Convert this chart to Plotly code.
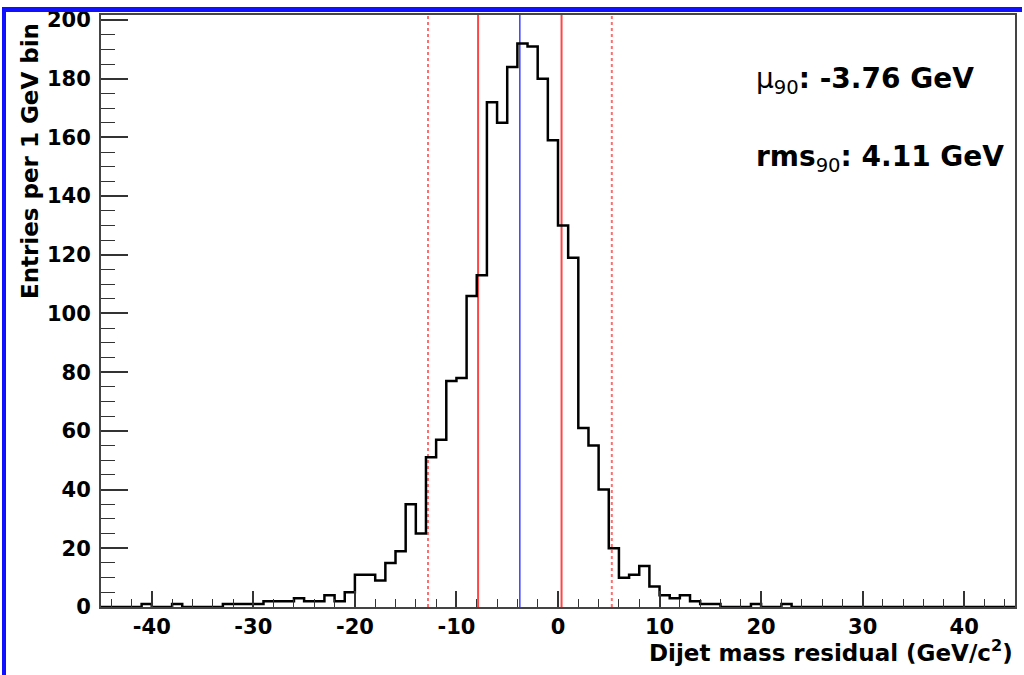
import plotly.graph_objects as go

# ---------------- data ----------------
bin_low_edges = list(range(-45, 45))  # 1 GeV bins
counts = [
    0, 0, 0, 0, 1, 0, 0, 1, 0, 0,          # -45 .. -36
    0, 0, 1, 1, 1, 1, 2, 2, 2, 3,          # -35 .. -26
    2, 2, 4, 2, 5, 11, 11, 9, 15, 19,      # -25 .. -16
    35, 25, 51, 57, 77, 78, 106, 113, 172, 165,   # -15 .. -6
    184, 192, 191, 180, 159, 130, 119, 61, 55, 40,  # -5 .. 4
    20, 10, 11, 14, 7, 4, 3, 4, 2, 1,      # 5 .. 14
    1, 0, 0, 0, 1, 0, 0, 1, 0, 0,          # 15 .. 24
    0, 0, 0, 0, 0, 0, 0, 0, 0, 0,          # 25 .. 34
    0, 0, 0, 0, 0, 0, 0, 0, 0, 0,          # 35 .. 44
]
bin_width = 1.0
mu90 = -3.76
rms90 = 4.11
solid_red_lines = [mu90 - rms90, mu90 + rms90]
dashed_red_lines = [-12.8, 5.3]
x_ticks = [-40, -30, -20, -10, 0, 10, 20, 30, 40]
x_tick_labels = ["-40", "-30", "-20", "-10", "0", "10", "20", "30", "40"]
y_ticks = [0, 20, 40, 60, 80, 100, 120, 140, 160, 180, 200]
y_tick_labels = [str(v) for v in y_ticks]

# ---------------- figure ----------------
xs = list(bin_low_edges) + [bin_low_edges[-1] + bin_width]
ys = list(counts) + [counts[-1]]

FONT = "DejaVu Sans, Verdana, sans-serif"

fig = go.Figure()
fig.add_trace(go.Scatter(
    x=xs, y=ys, mode="lines", line=dict(shape="hv", color="black", width=2.5),
    hoverinfo="skip", showlegend=False,
))

for xv in dashed_red_lines:
    fig.add_shape(type="line", xref="x", yref="paper", x0=xv, x1=xv, y0=0, y1=1,
                  line=dict(color="rgba(255,110,110,1)", width=2, dash="dot"), layer="below")
for xv in solid_red_lines:
    fig.add_shape(type="line", xref="x", yref="paper", x0=xv, x1=xv, y0=0, y1=1,
                  line=dict(color="rgba(255,70,70,1)", width=2), layer="below")
fig.add_shape(type="line", xref="x", yref="paper", x0=mu90, x1=mu90, y0=0, y1=1,
              line=dict(color="rgba(60,60,255,1)", width=1.5), layer="below")

# blue border (pixel sized, anchored on the plot corner)
border = dict(type="rect", xref="paper", yref="paper", xsizemode="pixel", ysizemode="pixel",
              xanchor=0, yanchor=0, fillcolor="#1010ff", line=dict(width=0), layer="above")
fig.add_shape(**border, x0=-99, x1=-95, y0=-80, y1=600)
fig.add_shape(**border, x0=-99, x1=921, y0=595, y1=600)

axis_common = dict(
    showgrid=False, zeroline=False, showline=True, mirror=True,
    linecolor="#444", linewidth=2, ticks="inside", tickcolor="#333",
    tickfont=dict(family=FONT, size=21, color="black", weight="bold"),
)

fig.update_xaxes(range=[-45, 45], tickvals=x_ticks, ticktext=x_tick_labels, ticklen=16, tickwidth=1.5,
                 minor=dict(dtick=2, tick0=0, ticklen=8, ticks="inside", tickcolor="#333", tickwidth=1.2),
                 ticklabelstandoff=0,
                 **axis_common)
fig.update_yaxes(range=[0, 201.7], tickvals=y_ticks, ticktext=y_tick_labels, ticklen=27, tickwidth=1.5,
                 minor=dict(dtick=5, tick0=0, ticklen=14, ticks="inside", tickcolor="#333", tickwidth=1.2),
                 ticklabelstandoff=4,
                 **axis_common)

fig.add_annotation(text="<b>Dijet mass residual (GeV/c<sup>2</sup>)</b>", xref="paper", yref="paper",
                   x=1.0, y=-0.074, xanchor="right", yanchor="middle", showarrow=False,
                   font=dict(family=FONT, size=23, color="black"))
fig.add_annotation(text="<b>Entries per 1 GeV bin</b>", xref="paper", yref="paper",
                   x=-0.0775, y=0.99, xanchor="center", yanchor="top", textangle=-90, showarrow=False,
                   font=dict(family=FONT, size=23, color="black"))
fig.add_annotation(text=f"μ<sub>90</sub><b>: {mu90:.2f} GeV</b>", xref="paper", yref="paper",
                   x=0.714, y=0.89, xanchor="left", yanchor="middle", showarrow=False,
                   font=dict(family=FONT, size=28, color="black"))
fig.add_annotation(text=f"<b>rms</b><sub>90</sub><b>: {rms90:.2f} GeV</b>", xref="paper", yref="paper",
                   x=0.714, y=0.758, xanchor="left", yanchor="middle", showarrow=False,
                   font=dict(family=FONT, size=28, color="black"))

fig.update_layout(
    width=1024, height=675,
    margin=dict(l=101, r=7, t=15, b=68),
    paper_bgcolor="white", plot_bgcolor="white",
    showlegend=False,
)

fig.write_html("out.html")
